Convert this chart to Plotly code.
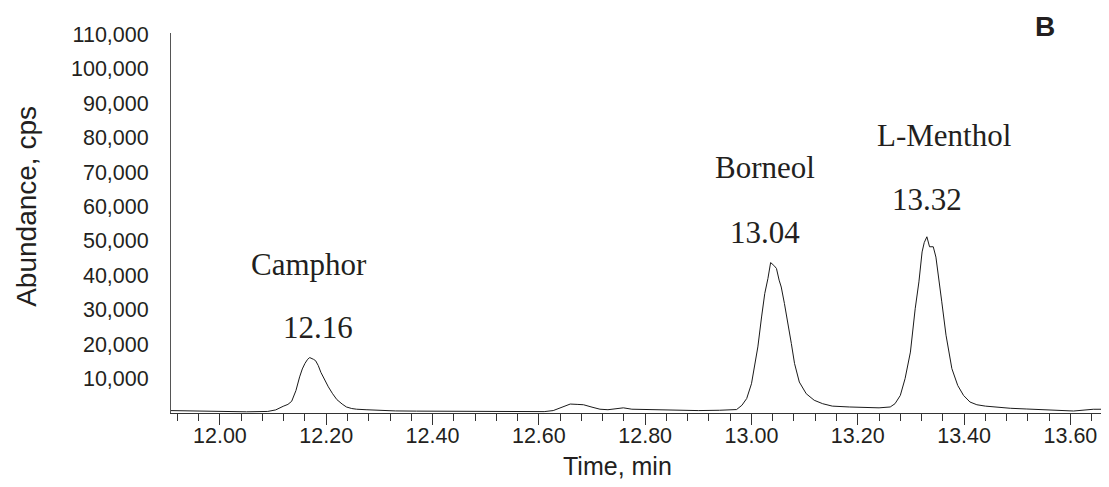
import plotly.graph_objects as go

# ---- data ----
time_min = [
    11.908, 11.95, 12.00, 12.05, 12.09, 12.105, 12.119, 12.128, 12.135, 12.143,
    12.150, 12.155, 12.160, 12.165, 12.169, 12.173, 12.176, 12.180, 12.185, 12.190,
    12.196, 12.204, 12.212, 12.220, 12.230, 12.238, 12.248, 12.257, 12.275, 12.295,
    12.33, 12.37, 12.42, 12.47, 12.52, 12.57, 12.61, 12.627, 12.645, 12.659,
    12.672, 12.684, 12.700, 12.715, 12.73, 12.745, 12.759, 12.775, 12.80, 12.85,
    12.90, 12.94, 12.972, 12.982, 12.991, 13.000, 13.006, 13.012, 13.019, 13.025,
    13.031, 13.036, 13.042, 13.047, 13.052, 13.056, 13.062, 13.068, 13.075, 13.081,
    13.090, 13.103, 13.118, 13.134, 13.152, 13.184, 13.21, 13.240, 13.261, 13.27,
    13.28, 13.289, 13.299, 13.308, 13.315, 13.321, 13.325, 13.330, 13.335, 13.342,
    13.347, 13.352, 13.358, 13.366, 13.377, 13.388, 13.399, 13.411, 13.424, 13.440,
    13.455, 13.487, 13.518, 13.555, 13.606, 13.643, 13.673,
]
abundance_cps = [
    700, 550, 400, 350, 450, 900, 1950, 2500, 3400, 6500,
    10500, 12800, 14400, 15600, 16100, 15900, 15600, 15200, 13800, 11800,
    9800, 7600, 5600, 3900, 2600, 1750, 1300, 1100, 950, 800,
    600, 550, 500, 550, 450, 450, 400, 700, 1700, 2600,
    2500, 2400, 1700, 1100, 950, 1200, 1500, 1100, 1000, 800,
    700, 800, 1000, 2240, 4200, 8500, 13400, 19200, 27900, 34700,
    39100, 43700, 42900, 42000, 38600, 36600, 31800, 26900, 20200, 14400,
    9000, 5600, 3700, 2700, 2000, 1750, 1600, 1500, 1750, 2700,
    5100, 10000, 17700, 30300, 38100, 46800, 49500, 51200, 48300, 48300,
    45300, 40000, 32300, 22600, 12900, 8000, 5100, 3200, 2400, 2000,
    1750, 1370, 1160, 870, 580, 1080, 1100,
]

peak_names = ["Camphor", "Borneol", "L-Menthol"]
peak_times = ["12.16", "13.04", "13.32"]

y_tick_values = [10000, 20000, 30000, 40000, 50000, 60000, 70000, 80000, 90000, 100000, 110000]
x_tick_values = [12.00, 12.20, 12.40, 12.60, 12.80, 13.00, 13.20, 13.40, 13.60]

TEXT = "#231f20"
SANS = "Liberation Sans, Arial, sans-serif"
SERIF = "Liberation Serif, Times New Roman, serif"

fig = go.Figure()
fig.add_trace(go.Scatter(
    x=time_min, y=abundance_cps, mode="lines",
    line=dict(color="#1a1a1a", width=1), showlegend=False, hoverinfo="skip",
))

# label positions (x in minutes, y in cps) for name and retention time
name_pos = [(12.1675, 43200), (13.025, 71300), (13.362, 80500)]
rt_pos = [(12.184, 24800), (13.026, 52500), (13.331, 61900)]

annotations = []
for name, rt, (nx, ny), (rx, ry) in zip(peak_names, peak_times, name_pos, rt_pos):
    annotations.append(dict(x=nx, y=ny, xref="x", yref="y", text=name, showarrow=False,
                            font=dict(family=SERIF, size=31, color=TEXT),
                            xanchor="center", yanchor="middle"))
    annotations.append(dict(x=rx, y=ry, xref="x", yref="y", text=rt, showarrow=False,
                            font=dict(family=SERIF, size=31, color=TEXT),
                            xanchor="center", yanchor="middle"))

annotations.append(dict(x=0.9323, y=1.018, xref="paper", yref="paper", text="<b>B</b>",
                        showarrow=False, font=dict(family=SANS, size=28, color=TEXT),
                        xanchor="center", yanchor="middle"))
annotations.append(dict(x=0.4765, y=-0.14, xref="paper", yref="paper", text="Time, min",
                        showarrow=False, font=dict(family=SANS, size=25, color=TEXT),
                        xanchor="center", yanchor="middle"))
annotations.append(dict(x=-0.1535, y=0.5426, xref="paper", yref="paper", text="Abundance, cps",
                        showarrow=False, textangle=-90,
                        font=dict(family=SANS, size=28, color=TEXT),
                        xanchor="center", yanchor="middle"))

# page body has an 8px default margin, so the figure is sized/offset to compensate
fig.update_layout(
    width=1101, height=479,
    margin=dict(l=163, r=0, t=25, b=74),
    paper_bgcolor="white", plot_bgcolor="white",
    annotations=annotations,
    xaxis=dict(
        range=[11.908, 13.6726],
        tickvals=x_tick_values, tickformat=".2f",
        ticks="outside", ticklen=11, tickwidth=1, tickcolor="#333",
        ticklabelstandoff=-8,
        minor=dict(dtick=0.04, tick0=12.0, ticks="outside", ticklen=7, tickwidth=1, tickcolor="#333"),
        showline=True, linecolor="#333", linewidth=1,
        showgrid=False, zeroline=False,
        tickfont=dict(family=SANS, size=21.5, color=TEXT),
    ),
    yaxis=dict(
        range=[0, 110400],
        tickvals=y_tick_values, tickformat=",",
        ticks="", ticklabelstandoff=17,
        showline=True, linecolor="#555", linewidth=1,
        showgrid=False, zeroline=False,
        tickfont=dict(family=SANS, size=21.5, color=TEXT),
    ),
)

fig.write_html("out.html")
